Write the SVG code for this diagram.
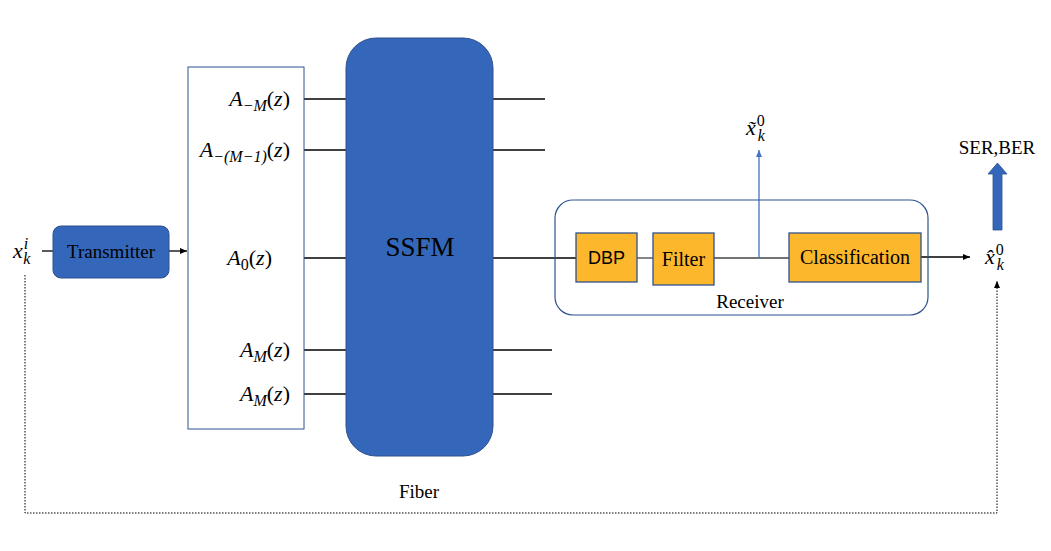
<svg xmlns="http://www.w3.org/2000/svg" width="1051" height="551" viewBox="0 0 1051 551">
<style>
.serif{font-family:"Liberation Serif","Times New Roman",serif;fill:#000}
.math{font-family:"Liberation Serif","Times New Roman",serif;font-style:italic;fill:#000;font-size:22px}
.sub{font-size:16px}
.ln{stroke:#000;stroke-width:1.3;fill:none}
.gray{stroke:#444;stroke-width:1.3;fill:none}
.blk{fill:#3467B9;stroke:#2F528F;stroke-width:1}
.org{fill:#FDB72D;stroke:#2F528F;stroke-width:1.3}
</style>
<defs>
<marker id="ah" markerWidth="8" markerHeight="8" refX="7" refY="4" orient="auto" markerUnits="userSpaceOnUse"><path d="M0,1 L7,4 L0,7 Z" fill="#000"/></marker>
<marker id="ahb" markerWidth="8" markerHeight="8" refX="7" refY="4" orient="auto" markerUnits="userSpaceOnUse"><path d="M0,1 L7,4 L0,7 Z" fill="#4472C4"/></marker>
</defs>
<rect width="1051" height="551" fill="#fff"/>

<g id="connectors">
<line class="ln" x1="42" y1="251" x2="53" y2="251"/>
<line class="ln" x1="169" y1="251" x2="187" y2="251" marker-end="url(#ah)"/>
<line class="ln" x1="292" y1="99" x2="346" y2="99"/>
<line class="ln" x1="300" y1="150" x2="346" y2="150"/>
<line class="ln" x1="278" y1="258" x2="346" y2="258"/>
<line class="ln" x1="300" y1="350" x2="346" y2="350"/>
<line class="ln" x1="300" y1="394" x2="346" y2="394"/>
<line class="ln" x1="493" y1="99" x2="545" y2="99"/>
<line class="ln" x1="493" y1="150" x2="545" y2="150"/>
<line class="ln" x1="493" y1="258" x2="576" y2="258"/>
<line class="ln" x1="493" y1="350" x2="552" y2="350"/>
<line class="ln" x1="493" y1="394" x2="552" y2="394"/>
<line class="gray" x1="637" y1="258" x2="653" y2="258"/>
<line class="gray" x1="714" y1="258" x2="789" y2="258"/>
<line x1="759" y1="258" x2="759" y2="150" stroke="#4472C4" stroke-width="1.3" marker-end="url(#ahb)"/>
<line class="ln" x1="921" y1="257" x2="970" y2="257" marker-end="url(#ah)"/>
<path d="M993,230 L993,174 L988,174 L997.5,163 L1007,174 L1002,174 L1002,230 Z" fill="#3467B9" stroke="#2F528F" stroke-width="0.8"/>
<polyline points="25,275 25,513 997,513 997,281" fill="none" stroke="#000" stroke-width="1" stroke-dasharray="1.5,1.5" marker-end="url(#ah)"/>
</g>

<g id="input-label">
<text class="math" x="13" y="258">x<tspan class="sub" dx="1" dy="-9">i</tspan><tspan class="sub" dx="-5" dy="15">k</tspan></text>
</g>

<g id="transmitter">
<rect class="blk" x="53" y="226" width="116" height="52" rx="8"/>
<text class="serif" x="111" y="258" font-size="19" text-anchor="middle">Transmitter</text>
</g>

<g id="modes">
<rect x="188" y="67" width="116" height="362" fill="#fff" stroke="#2F528F" stroke-width="1"/>
<text class="math" x="290" y="106" text-anchor="end">A<tspan class="sub" dy="5">−M</tspan><tspan dy="-5" font-style="normal">(</tspan>z<tspan font-style="normal">)</tspan></text>
<text class="math" x="290" y="157" text-anchor="end">A<tspan class="sub" dy="5">−(M−1)</tspan><tspan dy="-5" font-style="normal">(</tspan>z<tspan font-style="normal">)</tspan></text>
<text class="math" x="272" y="265" text-anchor="end">A<tspan class="sub" dy="5" font-style="normal">0</tspan><tspan dy="-5" font-style="normal">(</tspan>z<tspan font-style="normal">)</tspan></text>
<text class="math" x="290" y="357" text-anchor="end">A<tspan class="sub" dy="5">M</tspan><tspan dy="-5" font-style="normal">(</tspan>z<tspan font-style="normal">)</tspan></text>
<text class="math" x="290" y="401" text-anchor="end">A<tspan class="sub" dy="5">M</tspan><tspan dy="-5" font-style="normal">(</tspan>z<tspan font-style="normal">)</tspan></text>
</g>

<g id="ssfm">
<rect class="blk" x="346" y="38" width="147" height="418" rx="30"/>
<text class="serif" x="420" y="256" font-size="27" text-anchor="middle">SSFM</text>
</g>

<g id="fiber-label">
<text class="serif" x="419" y="498" font-size="19" text-anchor="middle">Fiber</text>
</g>

<g id="receiver">
<rect x="555" y="200" width="373" height="115" rx="18" fill="none" stroke="#2F528F" stroke-width="1.2"/>
<text class="serif" x="750" y="308" font-size="19" text-anchor="middle">Receiver</text>
</g>

<g id="dbp">
<rect class="org" x="576" y="233" width="61" height="49"/>
<text x="606.5" y="264" font-family="Liberation Sans,Arial,sans-serif" font-size="18" text-anchor="middle" fill="#000">DBP</text>
</g>

<g id="filter">
<rect class="org" x="653" y="233" width="61" height="52"/>
<text class="serif" x="683.5" y="266" font-size="20" text-anchor="middle">Filter</text>
</g>

<g id="classification">
<rect class="org" x="789" y="233" width="132" height="49"/>
<text class="serif" x="855" y="264" font-size="20" text-anchor="middle">Classification</text>
</g>

<g id="tilde-label">
<text class="math" x="746" y="135">x̃<tspan class="sub" font-style="normal" dx="1" dy="-9">0</tspan><tspan class="sub" dx="-7" dy="15">k</tspan></text>
</g>

<g id="hat-label">
<text class="math" x="985" y="264">x̂<tspan class="sub" font-style="normal" dx="1" dy="-9">0</tspan><tspan class="sub" dx="-7" dy="15">k</tspan></text>
</g>

<g id="ser-label">
<text class="serif" x="997" y="154" font-size="19" text-anchor="middle">SER,BER</text>
</g>
</svg>
